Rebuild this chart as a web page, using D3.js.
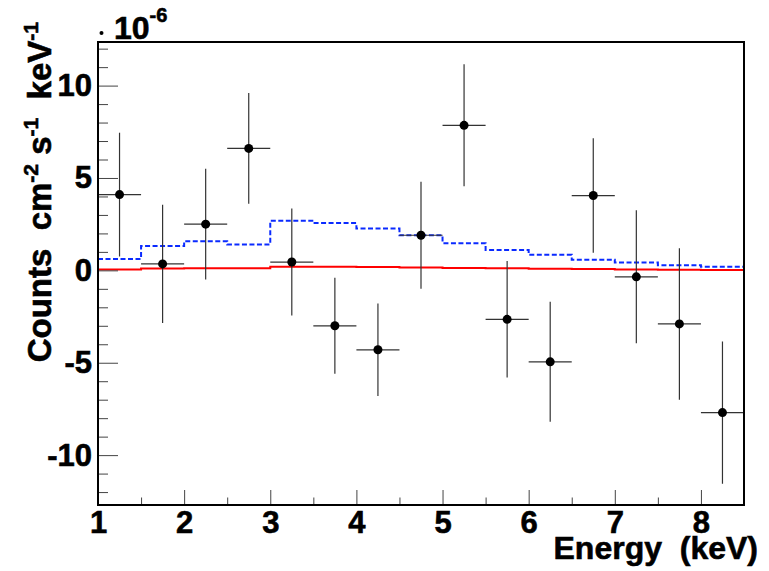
<!DOCTYPE html>
<html>
<head>
<meta charset="utf-8">
<script src="https://cdn.jsdelivr.net/npm/d3@7"></script>
<style>
  body { margin: 0; background: #fff; }
  text { font-family: "Liberation Sans", Arial, Helvetica, sans-serif; font-weight: bold; }
  .heavy { stroke: #000; stroke-width: 0.6px; }
</style>
</head>
<body>
<svg id="canvas" width="769" height="571"></svg>
<script>
// bins are 0.5 keV wide, from 1 to 8.5 keV
const binLow = [1, 1.5, 2, 2.5, 3, 3.5, 4, 4.5, 5, 5.5, 6, 6.5, 7, 7.5, 8];
const binHigh = 8.5;

// measured spectrum (units of 1e-6 counts cm^-2 s^-1 keV^-1)
const dataValues = [4.1, 0.35, 2.5, 6.6, 0.45, -3.0, -4.3, 1.9, 7.85, -2.65, -4.95, 4.05, -0.35, -2.9, -7.7];
const dataErrors = [3.35, 3.2, 3.0, 3.0, 2.9, 2.6, 2.5, 2.9, 3.3, 3.15, 3.25, 3.1, 3.6, 4.1, 3.85];

// model curves
const blueModel = [0.62, 1.32, 1.58, 1.4, 2.68, 2.56, 2.26, 1.9, 1.47, 1.1, 0.84, 0.57, 0.42, 0.28, 0.19];
const redModel = [0.05, 0.1, 0.12, 0.11, 0.2, 0.19, 0.18, 0.16, 0.13, 0.11, 0.09, 0.07, 0.05, 0.03, 0.02];

const xMajor = [1, 2, 3, 4, 5, 6, 7, 8];
const yMajor = [-10, -5, 0, 5, 10];

const svg = d3.select("#canvas");
const frameL = 98, frameR = 744, frameT = 42, frameB = 505;

const x = d3.scaleLinear().domain([1, 8.5]).range([frameL, frameR]);
const y = d3.scaleLinear().domain([-12.7, 12.36]).range([frameB, frameT]);

// step histograms
const stepLine = d3.line()
  .x((d) => x(d[0]))
  .y((d) => y(d[1]))
  .curve(d3.curveStepAfter);

const stepPoints = (vals) => {
  let pts = binLow.map((lo, i) => [lo, vals[i]]);
  pts.push([binHigh, vals[vals.length - 1]]);
  return pts;
};

svg.append("path")
  .attr("d", stepLine(stepPoints(redModel)))
  .attr("fill", "none")
  .attr("stroke", "#ff0000")
  .attr("stroke-width", 2);

svg.append("path")
  .attr("d", stepLine(stepPoints(blueModel)))
  .attr("fill", "none")
  .attr("stroke", "#0a2aff")
  .attr("stroke-width", 2)
  .attr("stroke-dasharray", "5,2.5");

// data points with error bars
const points = binLow.map((lo, i) => ({
  lo: lo,
  hi: lo + 0.5,
  c: lo + 0.25,
  v: dataValues[i],
  e: dataErrors[i],
}));

const pg = svg.append("g");
pg.selectAll("line.h")
  .data(points)
  .enter()
  .append("line")
  .attr("class", "h")
  .attr("x1", (d) => x(d.lo))
  .attr("x2", (d) => x(d.hi))
  .attr("y1", (d) => y(d.v))
  .attr("y2", (d) => y(d.v))
  .attr("stroke", "#333")
  .attr("stroke-width", 1.2);

pg.selectAll("line.v")
  .data(points)
  .enter()
  .append("line")
  .attr("class", "v")
  .attr("x1", (d) => x(d.c))
  .attr("x2", (d) => x(d.c))
  .attr("y1", (d) => y(d.v + d.e))
  .attr("y2", (d) => y(d.v - d.e))
  .attr("stroke", "#333")
  .attr("stroke-width", 1.2);

pg.selectAll("circle")
  .data(points)
  .enter()
  .append("circle")
  .attr("cx", (d) => x(d.c))
  .attr("cy", (d) => y(d.v))
  .attr("r", 4.5)
  .attr("fill", "#000");

// axes: ticks point inside the frame
const xMinor = d3.range(1.5, 8.5, 1);
const yMinor = d3.range(-12, 13, 1).filter((v) => v % 5 !== 0);
const plainNum = (d) => String(d); // hyphen minus, like the original

svg.append("g")
  .attr("transform", `translate(0,${frameB})`)
  .call(d3.axisBottom(x).tickValues(xMinor).tickSize(-7.5).tickFormat(""))
  .call((g) => g.select(".domain").remove())
  .selectAll("line").attr("stroke", "#444");

svg.append("g")
  .attr("transform", `translate(0,${frameB})`)
  .call(d3.axisBottom(x).tickValues(xMajor).tickSize(-15).tickPadding(6).tickFormat(plainNum))
  .call((g) => g.select(".domain").remove())
  .call((g) => g.selectAll("line").attr("stroke", "#444"))
  .call((g) => g.selectAll("text")
    .attr("class", "heavy")
    .attr("font-size", 31)
    .attr("fill", "#000")
    .attr("font-family", null));

svg.append("g")
  .attr("transform", `translate(${frameL},0)`)
  .call(d3.axisLeft(y).tickValues(yMinor).tickSize(-10).tickFormat(""))
  .call((g) => g.select(".domain").remove())
  .selectAll("line").attr("stroke", "#444");

svg.append("g")
  .attr("transform", `translate(${frameL},0)`)
  .call(d3.axisLeft(y).tickValues(yMajor).tickSize(-20).tickPadding(6).tickFormat(plainNum))
  .call((g) => g.select(".domain").remove())
  .call((g) => g.selectAll("line").attr("stroke", "#444"))
  .call((g) => g.selectAll("text")
    .attr("class", "heavy")
    .attr("font-size", 31)
    .attr("fill", "#000")
    .attr("font-family", null));

// frame
svg.append("rect")
  .attr("x", frameL)
  .attr("y", frameT)
  .attr("width", frameR - frameL)
  .attr("height", frameB - frameT)
  .attr("fill", "none")
  .attr("stroke", "#000")
  .attr("stroke-width", 2);

// axis titles
svg.append("text")
  .attr("class", "heavy")
  .attr("x", 758)
  .attr("y", 559)
  .attr("text-anchor", "end")
  .attr("font-size", 32)
  .attr("xml:space", "preserve")
  .text("Energy  (keV)");

const yt = svg.append("text")
  .attr("class", "heavy")
  .attr("transform", "translate(51,22) rotate(-90)")
  .attr("text-anchor", "end")
  .attr("font-size", 33)
  .attr("xml:space", "preserve");
yt.append("tspan").text("Counts  cm");
yt.append("tspan").attr("font-size", 21).attr("dy", -13).text("-2");
yt.append("tspan").attr("dy", 13).text(" s");
yt.append("tspan").attr("font-size", 21).attr("dy", -13).text("-1");
yt.append("tspan").attr("dy", 13).text("  keV");
yt.append("tspan").attr("font-size", 21).attr("dy", -13).text("-1");

// exponent label
svg.append("circle").attr("cx", 101.5).attr("cy", 33).attr("r", 2).attr("fill", "#000");
const ex = svg.append("text").attr("class", "heavy").attr("x", 114).attr("y", 39).attr("font-size", 32);
ex.append("tspan").text("10");
ex.append("tspan").attr("font-size", 20).attr("dy", -17).text("-6");
</script>
</body>
</html>
